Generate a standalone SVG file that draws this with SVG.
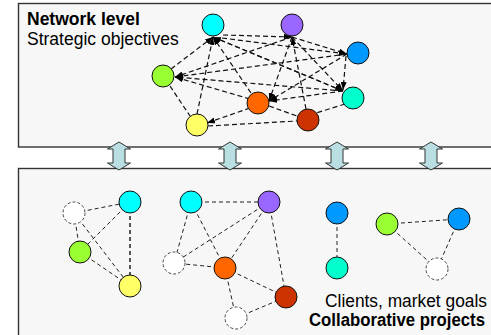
<svg xmlns="http://www.w3.org/2000/svg" width="491" height="335" viewBox="0 0 491 335">
<style>
.box{fill:#f7f7f7;stroke:#333;stroke-width:1.4}
.n{stroke:#111;stroke-width:1}
.d{fill:#fff;stroke:#333;stroke-width:0.9;stroke-dasharray:3,2}
.e{stroke:#111;stroke-width:1.2;stroke-dasharray:5,3;fill:none}
.el{stroke:#222;stroke-width:1;stroke-dasharray:4,3;fill:none}
.arr{fill:#b9dfe3;stroke:#333;stroke-width:1}
.t{font-family:"Liberation Sans",Arial,sans-serif;font-size:17.5px;fill:#000}
.b{font-weight:bold}
</style>
<defs>
<marker id="ah" markerUnits="userSpaceOnUse" markerWidth="8" markerHeight="6" refX="8" refY="3" orient="auto">
<path d="M0,0 L8,3 L0,6 z" fill="#000"/>
</marker>
</defs>
<rect x="0" y="0" width="491" height="335" fill="#fff"/>
<g id="network-level">
<rect class="box" x="18.5" y="3.5" width="480" height="143.5"/>
<text class="t b" x="27" y="25">Network level</text>
<text class="t" x="27" y="45">Strategic objectives</text>
</g>
<g id="project-level">
<rect class="box" x="18.5" y="168.5" width="480" height="180"/>
<text class="t" x="325" y="307" textLength="162" lengthAdjust="spacingAndGlyphs">Clients, market goals</text>
<text class="t b" x="309" y="326" textLength="176" lengthAdjust="spacingAndGlyphs">Collaborative projects</text>
</g>
<g id="links">
<path class="arr" d="M119,142 L130.5,149 L125,149 L125,163 L130.5,163 L119,170 L107.5,163 L113,163 L113,149 L107.5,149 Z"/>
<path class="arr" d="M230,142 L241.5,149 L236,149 L236,163 L241.5,163 L230,170 L218.5,163 L224,163 L224,149 L218.5,149 Z"/>
<path class="arr" d="M337,142 L348.5,149 L343,149 L343,163 L348.5,163 L337,170 L325.5,163 L331,163 L331,149 L325.5,149 Z"/>
<path class="arr" d="M431,142 L442.5,149 L437,149 L437,163 L442.5,163 L431,170 L419.5,163 L425,163 L425,149 L419.5,149 Z"/>
</g>
<g id="connectors">
<g marker-end="url(#ah)">
<line class="e" x1="171" y1="69" x2="213" y2="37"/>
<line class="e" x1="197" y1="114" x2="213" y2="37"/>
<line class="e" x1="251" y1="93" x2="213" y2="37"/>
<line class="e" x1="343" y1="91" x2="213" y2="37"/>
<line class="e" x1="223" y1="35" x2="292" y2="37"/>
<line class="e" x1="306" y1="109" x2="292" y2="37"/>
<line class="e" x1="222" y1="38" x2="347" y2="54"/>
<line class="e" x1="292" y1="37" x2="347" y2="54"/>
<line class="e" x1="292" y1="37" x2="175" y2="77"/>
<line class="e" x1="347" y1="54" x2="175" y2="77"/>
<line class="e" x1="343" y1="91" x2="175" y2="77"/>
<line class="e" x1="250" y1="99" x2="175" y2="77"/>
<line class="e" x1="292" y1="37" x2="343" y2="91"/>
<line class="e" x1="346" y1="56" x2="343" y2="90"/>
<line class="e" x1="213" y1="37" x2="343" y2="91"/>
<line class="e" x1="292" y1="37" x2="269" y2="101"/>
<line class="e" x1="347" y1="54" x2="269" y2="101"/>
<line class="e" x1="343" y1="91" x2="269" y2="101"/>
<line class="e" x1="250" y1="108" x2="207" y2="123"/>
</g>
<line class="e" x1="170" y1="86" x2="190" y2="116"/>
<line class="e" x1="208" y1="126" x2="297" y2="121"/>
<line class="e" x1="345" y1="104" x2="316" y2="113"/>
<line class="e" x1="269" y1="106" x2="297" y2="116"/>
<line class="el" x1="74" y1="213" x2="130" y2="202"/>
<line class="el" x1="74" y1="213" x2="80" y2="252"/>
<line class="el" x1="74" y1="213" x2="130" y2="286"/>
<line class="el" x1="130" y1="202" x2="80" y2="252"/>
<line class="el" x1="130" y1="202" x2="130" y2="286" style="stroke-width:1.5"/>
<line class="el" x1="80" y1="252" x2="130" y2="286"/>
<line class="el" x1="191" y1="202" x2="269" y2="202"/>
<line class="el" x1="191" y1="202" x2="174" y2="263"/>
<line class="el" x1="191" y1="202" x2="225" y2="268"/>
<line class="el" x1="269" y1="202" x2="174" y2="263"/>
<line class="el" x1="269" y1="202" x2="225" y2="268"/>
<line class="el" x1="269" y1="202" x2="286" y2="297"/>
<line class="el" x1="225" y1="268" x2="174" y2="263"/>
<line class="el" x1="225" y1="268" x2="286" y2="297"/>
<line class="el" x1="225" y1="268" x2="236" y2="318"/>
<line class="el" x1="236" y1="318" x2="286" y2="297"/>
<line class="el" x1="337" y1="213" x2="337" y2="268"/>
<line class="el" x1="387" y1="224" x2="459" y2="219"/>
<line class="el" x1="387" y1="224" x2="437" y2="269"/>
<line class="el" x1="459" y1="219" x2="437" y2="269"/>
</g>
<g id="n-cyan"><circle class="n" cx="213" cy="25" r="11" fill="#00ffff"/></g>
<g id="n-purple"><circle class="n" cx="292" cy="25" r="11" fill="#9966ff"/></g>
<g id="n-blue"><circle class="n" cx="358" cy="53" r="11" fill="#0099ff"/></g>
<g id="n-teal"><circle class="n" cx="353" cy="98" r="11" fill="#00ffcc"/></g>
<g id="n-orange"><circle class="n" cx="258" cy="103" r="11" fill="#ff6600"/></g>
<g id="n-red"><circle class="n" cx="308" cy="120" r="11" fill="#cc3300"/></g>
<g id="n-green"><circle class="n" cx="163" cy="76" r="11" fill="#99ff33"/></g>
<g id="n-yellow"><circle class="n" cx="197" cy="125" r="11" fill="#ffff66"/></g>
<g id="p1-empty"><circle class="d" cx="74" cy="213" r="11"/></g>
<g id="p1-cyan"><circle class="n" cx="130" cy="202" r="11" fill="#00ffff"/></g>
<g id="p1-green"><circle class="n" cx="80" cy="252" r="11" fill="#99ff33"/></g>
<g id="p1-yellow"><circle class="n" cx="130" cy="286" r="11" fill="#ffff66"/></g>
<g id="p2-cyan"><circle class="n" cx="191" cy="202" r="11" fill="#00ffff"/></g>
<g id="p2-purple"><circle class="n" cx="269" cy="202" r="11" fill="#9966ff"/></g>
<g id="p2-empty1"><circle class="d" cx="174" cy="263" r="11"/></g>
<g id="p2-orange"><circle class="n" cx="225" cy="268" r="11" fill="#ff6600"/></g>
<g id="p2-red"><circle class="n" cx="286" cy="297" r="11" fill="#cc3300"/></g>
<g id="p2-empty2"><circle class="d" cx="236" cy="318" r="11"/></g>
<g id="p3-blue"><circle class="n" cx="337" cy="213" r="11" fill="#0099ff"/></g>
<g id="p3-teal"><circle class="n" cx="337" cy="268" r="11" fill="#00ffcc"/></g>
<g id="p4-green"><circle class="n" cx="387" cy="224" r="11" fill="#99ff33"/></g>
<g id="p4-blue"><circle class="n" cx="459" cy="219" r="11" fill="#0099ff"/></g>
<g id="p4-empty"><circle class="d" cx="437" cy="269" r="11"/></g>
</svg>
